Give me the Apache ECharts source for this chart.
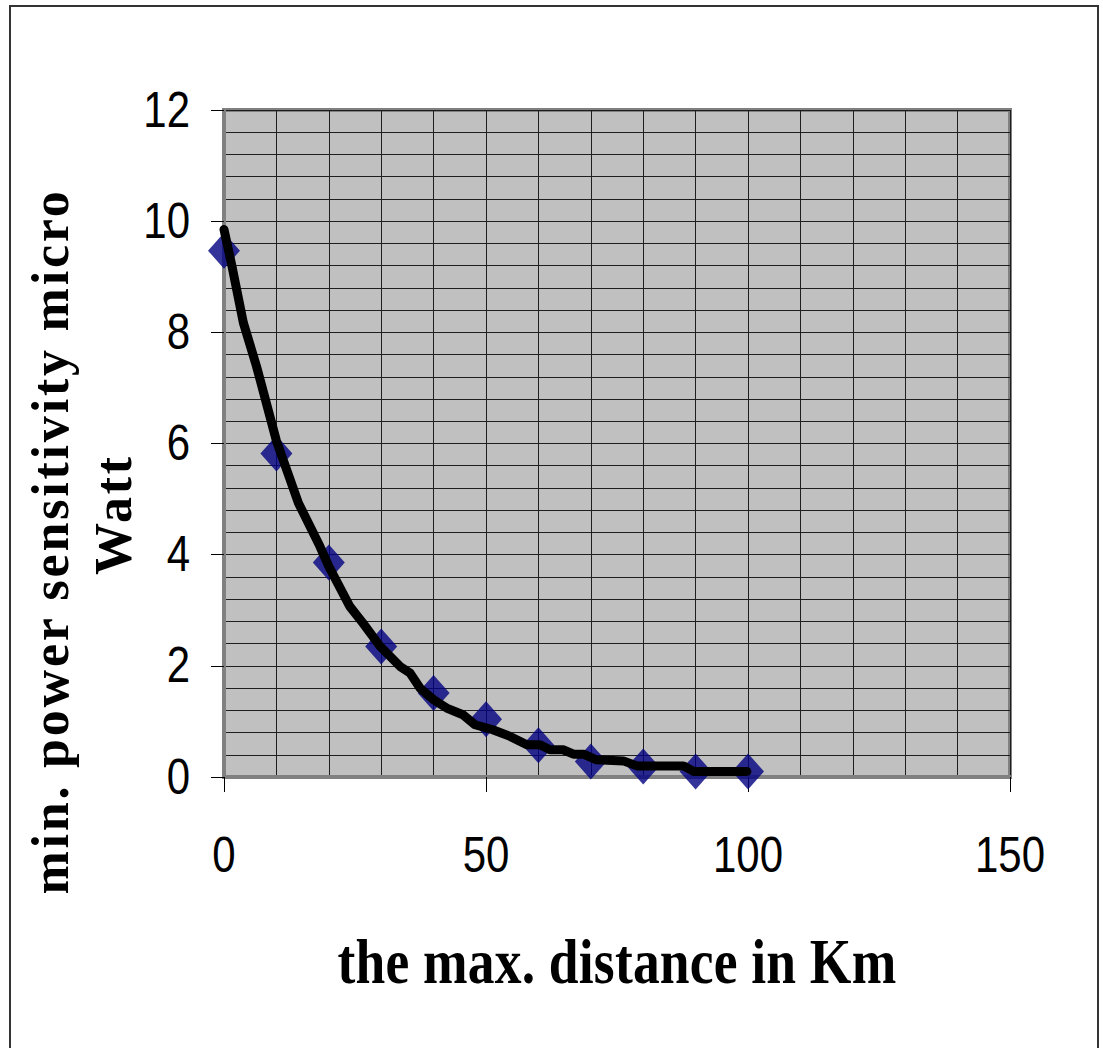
<!DOCTYPE html>
<html><head><meta charset="utf-8">
<script src="https://cdn.jsdelivr.net/npm/echarts@6/dist/echarts.min.js"></script>
<style>html,body{margin:0;padding:0;background:#fff}#chart{width:1103px;height:1048px}</style>
</head><body><div id="chart"></div>
<script>
// Data
const markerX = [0, 10, 20, 30, 40, 50, 60, 70, 80, 90, 100];
const markerY = [9.47, 5.82, 3.86, 2.35, 1.51, 1.04, 0.57, 0.28, 0.19, 0.1, 0.1];
const lineX = [0, 1.5, 3.7, 6.2, 10, 14.2, 18.3, 20, 24, 26.5, 29.8, 33.6, 35.5, 37.4, 40, 42.5, 45.6, 47.9, 51.3, 54.6, 57.8, 60.3, 62.2, 64.7, 66.7, 68.6, 71.1, 76.2, 78.8, 87.7, 89.6, 99.8];
const lineY = [9.85, 9.2, 8.17, 7.39, 6.05, 4.93, 4.15, 3.79, 3.07, 2.77, 2.35, 1.99, 1.87, 1.6, 1.39, 1.24, 1.12, 0.94, 0.85, 0.73, 0.58, 0.58, 0.49, 0.49, 0.41, 0.41, 0.31, 0.29, 0.2, 0.2, 0.1, 0.1];
const xTickLabels = ['0', '50', '100', '150'];
const yTickLabels = ['0', '2', '4', '6', '8', '10', '12'];
const xTitle = 'the max. distance in Km';
const yTitle1 = 'min. power sensitivity micro';
const yTitle2 = 'Watt';

const chart = echarts.init(document.getElementById('chart'), null, {renderer: 'svg'});
const gridLine = {show: true, lineStyle: {color: '#1e1e1e', width: 1}};
const tickFont = "'Liberation Sans', Arial, sans-serif";
const titleFont = "'Liberation Serif', 'Times New Roman', serif";
const titleRich = {fontFamily: titleFont, fontWeight: 'bold', fontSize: 52, lineHeight: 63, color: '#000'};
chart.setOption({
  animation: false,
  backgroundColor: '#fff',
  graphic: [{type: 'rect', shape: {x: 10, y: 6, width: 1088, height: 1100}, style: {fill: 'none', stroke: '#333', lineWidth: 2}, silent: true}],
  grid: {left: 224, right: 93, top: 110, bottom: 271, containLabel: false, outerBoundsMode: 'none', show: true, backgroundColor: '#c0c0c0', borderColor: '#808080', borderWidth: 4},
  xAxis: {
    type: 'value', min: 0, max: 150, interval: 50,
    axisLine: {show: true, onZero: false, lineStyle: {color: '#808080', width: 4}},
    axisTick: {show: true, length: 15, lineStyle: {color: '#000', width: 1}},
    axisLabel: {fontFamily: tickFont, fontSize: 42, color: '#000', margin: 57,
      formatter: v => xTickLabels[Math.round(v / 50)]},
    splitLine: gridLine,
    minorTick: {show: false, splitNumber: 5},
    minorSplitLine: gridLine,
    name: xTitle, nameLocation: 'middle', nameGap: 157, nameMoveOverlap: false,
    nameTextStyle: {fontFamily: titleFont, fontWeight: 'bold', fontSize: 53.5, color: '#000'}
  },
  yAxis: {
    type: 'value', min: 0, max: 12, interval: 2,
    axisLine: {show: true, onZero: false, lineStyle: {color: '#808080', width: 4}},
    axisTick: {show: true, length: 13, lineStyle: {color: '#000', width: 1}},
    axisLabel: {fontFamily: tickFont, fontSize: 42, color: '#000', margin: 34,
      formatter: v => yTickLabels[Math.round(v / 2)]},
    splitLine: gridLine,
    minorTick: {show: false, splitNumber: 5},
    minorSplitLine: gridLine,
    name: '{a|' + yTitle1 + '}\n{b|' + yTitle2 + '}', nameLocation: 'middle', nameRotate: 90, nameGap: 79, nameMoveOverlap: false,
    nameTextStyle: {fontFamily: titleFont, fontWeight: 'bold', fontSize: 52, lineHeight: 63, color: '#000', align: 'center', padding: [0, 196, 0, 0],
      rich: {a: titleRich, b: Object.assign({}, titleRich, {padding: [0, 0, 0, 54]})}}
  },
  series: [
    {type: 'scatter', data: markerX.map((x, i) => [x, markerY[i]]), symbol: 'diamond', symbolSize: [32, 36], itemStyle: {color: '#000080'}, z: 2, silent: true},
    {type: 'line', data: lineX.map((x, i) => [x, lineY[i]]), symbol: 'none', lineStyle: {color: '#000', width: 9, cap: 'round', join: 'round'}, z: 3, silent: true}
  ]
});
// Reference tick labels and x title are drawn vertically stretched; reproduce it on the SVG text nodes.
const tickSet = new Set(xTickLabels.concat(yTickLabels));
function stretch(t, sx, sy) {
  const b = t.getBBox();
  const cx = b.x + b.width / 2, cy = b.y + b.height / 2;
  const tr = t.getAttribute('transform') || '';
  t.setAttribute('transform', tr + ' translate(' + cx + ' ' + cy + ') scale(' + sx + ' ' + sy + ') translate(' + (-cx) + ' ' + (-cy) + ')');
}
function post() {
  document.querySelectorAll('#chart text').forEach(t => {
    if (t.dataset.done) return;
    const s = t.textContent;
    if (tickSet.has(s)) stretch(t, 1, 1.17);
    else if (s === xTitle) { t.style.letterSpacing = '0.2px'; stretch(t, 1, 1.2); }
    else if (s === yTitle1 || s === yTitle2) t.style.letterSpacing = '2.8px';
    t.dataset.done = '1';
  });
}
post();
</script></body></html>
